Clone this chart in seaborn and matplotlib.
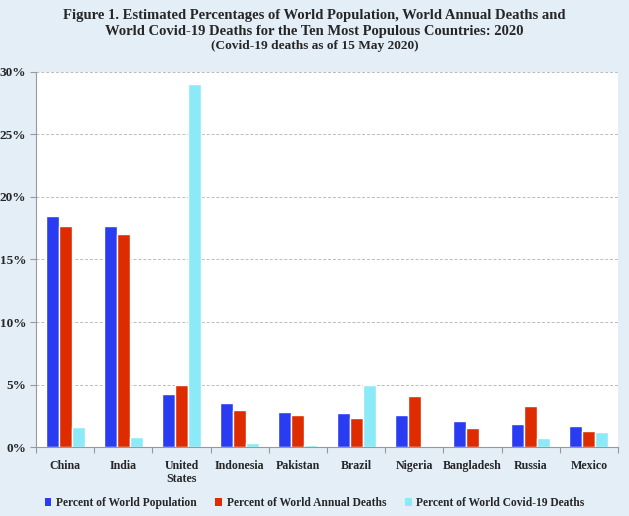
import matplotlib
matplotlib.use("Agg")
import matplotlib.pyplot as plt
import seaborn as sns
import pandas as pd
import numpy as np
from matplotlib.patches import Patch
from matplotlib.ticker import FuncFormatter, FixedLocator

countries = ["China", "India", "United\nStates", "Indonesia", "Pakistan", "Brazil",
             "Nigeria", "Bangladesh", "Russia", "Mexico"]
pop_pct = [18.5, 17.7, 4.25, 3.5, 2.8, 2.7, 2.6, 2.1, 1.85, 1.65]
deaths_pct = [17.7, 17.0, 4.95, 3.0, 2.55, 2.3, 4.05, 1.55, 3.25, 1.3]
covid_pct = [1.6, 0.8, 29.0, 0.3, 0.2, 5.0, 0.02, 0.05, 0.7, 1.2]
series = ["Percent of World Population", "Percent of World Annual Deaths",
          "Percent of World Covid-19 Deaths"]
colors = ["#2a3cf2", "#de2c00", "#8ceaf8"]

df = pd.DataFrame({
    "country": countries * 3,
    "value": pop_pct + deaths_pct + covid_pct,
    "series": [series[0]] * 10 + [series[1]] * 10 + [series[2]] * 10,
})

sns.set_theme(style="white")
plt.rcParams["font.family"] = ["Liberation Serif", "DejaVu Serif"]
plt.rcParams["font.weight"] = "bold"

bg = "#e4eef7"
fig = plt.figure(figsize=(6.29, 5.16), dpi=100, facecolor=bg)
ax = fig.add_axes([0.0572, 0.1337, 0.9253, 0.7268])
ax.set_facecolor("white")

sns.barplot(data=df, x="country", y="value", hue="series", palette=colors,
            width=0.67, ax=ax, legend=False, saturation=1)

ax.set_ylim(0, 30)
ax.set_xlim(-0.5, 9.5)
ax.set_yticks([0, 5, 10, 15, 20, 25, 30])
ax.yaxis.set_major_formatter(FuncFormatter(lambda v, p: f"{int(v)}%"))
ax.yaxis.grid(True, linestyle=(0, (3, 2)), color="#bbbbbb", linewidth=0.7)
ax.set_axisbelow(True)
ax.set_xlabel("")
ax.set_ylabel("")

for s in ["top", "right"]:
    ax.spines[s].set_visible(False)
for s in ["left", "bottom"]:
    ax.spines[s].set_color("#999999")
    ax.spines[s].set_linewidth(0.8)

ax.tick_params(axis="x", which="major", length=0, pad=9, labelsize=8.6)
ax.xaxis.set_minor_locator(FixedLocator(np.arange(-0.5, 10, 1.0)))
ax.tick_params(axis="x", which="minor", length=4, color="#999999", width=0.8, bottom=True)
ax.tick_params(axis="y", which="major", length=4, color="#999999", width=0.8, left=True,
               labelsize=9.5, pad=3)
for lab in ax.get_xticklabels() + ax.get_yticklabels():
    lab.set_fontweight("bold")

fig.text(0.5, 0.970, "Figure 1. Estimated Percentages of World Population, World Annual Deaths and",
         ha="center", va="center", fontsize=10.5, fontweight="bold")
fig.text(0.5, 0.938, "World Covid-19 Deaths for the Ten Most Populous Countries: 2020",
         ha="center", va="center", fontsize=10.5, fontweight="bold")
fig.text(0.5, 0.911, "(Covid-19 deaths as of 15 May 2020)",
         ha="center", va="center", fontsize=9.6, fontweight="bold")

handles = [Patch(facecolor=c, edgecolor="none") for c in colors]
leg = fig.legend(handles, series, loc="center", bbox_to_anchor=(0.5, 0.025), ncol=3,
                 frameon=False, handlelength=0.6, handleheight=0.6, handletextpad=0.4,
                 columnspacing=1.6, prop={"weight": "bold", "size": 8.3})

fig.savefig("out.png", dpi=100, facecolor=bg)
